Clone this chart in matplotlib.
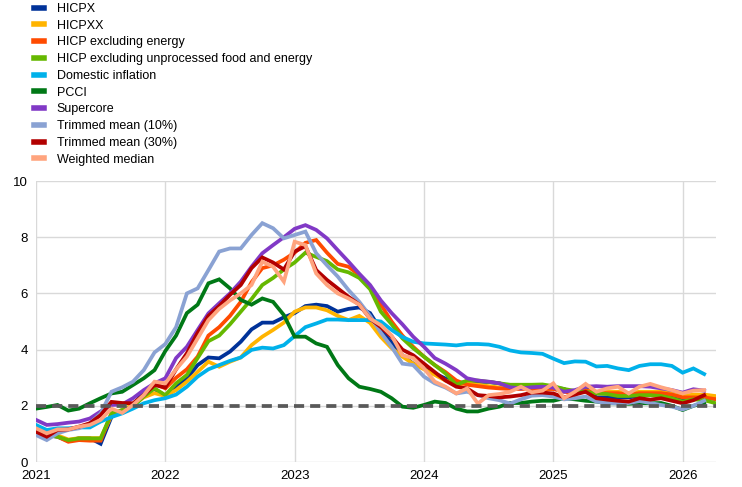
import numpy as np
import matplotlib; matplotlib.use("Agg"); import matplotlib.pyplot as plt

plt.rcParams["font.family"] = ["Liberation Sans", "DejaVu Sans"]

# monthly y-o-y rates, Jan 2021 onwards
YEARS = ["2021", "2022", "2023", "2024", "2025", "2026"]
hicpx = [1.1, 0.95, 0.9, 0.75, 0.85, 0.85, 0.65, 1.6, 1.85, 2.0, 2.5, 2.6,
         2.35, 2.7, 2.98, 3.45, 3.72, 3.69, 3.93, 4.28, 4.72, 4.96, 4.96, 5.15,
         5.3, 5.55, 5.6, 5.55, 5.35, 5.45, 5.5, 5.3, 4.7, 4.25, 3.8, 3.5,
         3.33, 3.15, 2.97, 2.8, 2.85, 2.85, 2.85, 2.8, 2.7, 2.7, 2.7, 2.7,
         2.65, 2.6, 2.4, 2.65, 2.3, 2.3, 2.3, 2.3, 2.35, 2.4, 2.4, 2.3,
         2.2, 2.25, 2.3, 2.25]
hicpxx = [1.1, 0.95, 0.95, 0.8, 0.85, 0.85, 0.85, 1.65, 1.85, 2.05, 2.3, 2.45,
          2.35, 2.56, 2.86, 3.21, 3.57, 3.39, 3.57, 3.72, 4.16, 4.46, 4.7, 4.96,
          5.35, 5.5, 5.5, 5.4, 5.2, 5.05, 5.2, 4.95, 4.45, 4.05, 3.75, 3.5,
          3.3, 3.1, 2.9, 2.75, 2.8, 2.75, 2.7, 2.65, 2.65, 2.65, 2.6, 2.6,
          2.6, 2.55, 2.5, 2.55, 2.5, 2.5, 2.5, 2.45, 2.5, 2.5, 2.5, 2.45,
          2.35, 2.4, 2.4, 2.35]
ex_energy = [1.2, 1.02, 0.9, 0.72, 0.78, 0.76, 0.76, 1.73, 1.8, 1.97, 2.38, 2.8,
             2.62, 3.0, 3.3, 3.75, 4.5, 4.8, 5.2, 5.7, 6.4, 6.9, 7.0, 7.2,
             7.45, 7.8, 7.9, 7.45, 7.05, 6.95, 6.65, 6.25, 5.6, 5.0, 4.5, 4.1,
             3.75, 3.45, 3.2, 2.9, 2.75, 2.7, 2.65, 2.62, 2.6, 2.6, 2.6, 2.6,
             2.6, 2.5, 2.45, 2.55, 2.45, 2.45, 2.45, 2.4, 2.45, 2.45, 2.45, 2.4,
             2.3, 2.3, 2.3, 2.24]
ex_unproc = [1.2, 0.96, 0.9, 0.78, 0.84, 0.84, 0.84, 1.73, 1.85, 1.97, 2.33, 2.62,
             2.38, 2.8, 3.1, 3.7, 4.3, 4.5, 4.9, 5.35, 5.8, 6.3, 6.55, 6.85,
             7.1, 7.45, 7.3, 7.15, 6.85, 6.75, 6.55, 6.15, 5.35, 4.9, 4.4, 4.05,
             3.75, 3.45, 3.15, 2.75, 2.9, 2.9, 2.85, 2.8, 2.75, 2.75, 2.75, 2.76,
             2.7, 2.6, 2.53, 2.5, 2.44, 2.42, 2.35, 2.35, 2.38, 2.38, 2.35, 2.27,
             2.15, 2.23, 2.2, 2.1]
domestic = [1.32, 1.14, 1.2, 1.2, 1.23, 1.23, 1.44, 1.6, 1.73, 1.9, 2.09, 2.2,
            2.27, 2.4, 2.68, 3.04, 3.3, 3.45, 3.6, 3.72, 3.99, 4.07, 4.04, 4.16,
            4.48, 4.8, 4.93, 5.07, 5.07, 5.05, 5.05, 5.05, 5.0, 4.7, 4.45, 4.28,
            4.22, 4.2, 4.18, 4.15, 4.2, 4.2, 4.18, 4.1, 3.97, 3.9, 3.88, 3.85,
            3.68, 3.52, 3.58, 3.57, 3.4, 3.42, 3.33, 3.27, 3.42, 3.48, 3.48, 3.42,
            3.18, 3.33, 3.13]
pcci = [1.9, 1.96, 2.03, 1.83, 1.9, 2.09, 2.27, 2.44, 2.5, 2.74, 2.98, 3.27,
        3.95, 4.5, 5.3, 5.6, 6.36, 6.5, 6.18, 5.77, 5.6, 5.82, 5.7, 5.23,
        4.46, 4.46, 4.22, 4.1, 3.45, 2.98, 2.68, 2.6, 2.5, 2.27, 1.97, 1.93,
        2.03, 2.15, 2.1, 1.9, 1.8, 1.8, 1.9, 1.97, 2.1, 2.1, 2.15, 2.18,
        2.18, 2.27, 2.23, 2.18, 2.15, 2.09, 2.09, 2.07, 2.09, 2.09, 2.1, 2.0,
        1.85, 2.0, 2.1]
supercore = [1.5, 1.32, 1.35, 1.4, 1.44, 1.55, 1.8, 2.03, 2.05, 2.27, 2.56, 2.8,
             2.98, 3.7, 4.1, 4.7, 5.29, 5.65, 6.0, 6.42, 6.95, 7.43, 7.72, 8.0,
             8.3, 8.43, 8.26, 7.96, 7.54, 7.13, 6.7, 6.3, 5.75, 5.3, 4.9, 4.46,
             4.1, 3.7, 3.5, 3.27, 2.98, 2.9, 2.86, 2.8, 2.66, 2.62, 2.66, 2.68,
             2.65, 2.5, 2.56, 2.68, 2.7, 2.68, 2.7, 2.7, 2.7, 2.68, 2.62, 2.56,
             2.47, 2.59, 2.54]
trim10 = [0.96, 0.78, 1.02, 1.14, 1.2, 1.38, 1.73, 2.5, 2.66, 2.86, 3.27, 3.9,
          4.2, 4.8, 6.0, 6.18, 6.83, 7.49, 7.6, 7.6, 8.08, 8.5, 8.32, 7.96,
          8.08, 8.2, 7.43, 7.0, 6.6, 6.12, 5.7, 5.2, 4.6, 4.1, 3.5, 3.45,
          3.04, 2.8, 2.65, 2.44, 2.5, 2.38, 2.27, 2.2, 2.08, 2.23, 2.36, 2.38,
          2.33, 2.23, 2.27, 2.33, 2.15, 2.1, 2.08, 2.1, 2.17, 2.1, 2.03, 1.97,
          1.87, 2.0, 2.18]
trim30 = [1.08, 0.9, 1.14, 1.16, 1.26, 1.38, 1.67, 2.14, 2.1, 2.09, 2.38, 2.74,
          2.65, 3.3, 3.87, 4.6, 5.2, 5.55, 5.95, 6.3, 6.9, 7.28, 7.1, 6.85,
          7.49, 7.68, 6.83, 6.48, 6.18, 5.88, 5.6, 5.1, 4.8, 4.46, 4.0, 3.8,
          3.5, 3.2, 2.9, 2.68, 2.62, 2.38, 2.35, 2.3, 2.33, 2.38, 2.47, 2.47,
          2.44, 2.3, 2.4, 2.5, 2.27, 2.22, 2.18, 2.15, 2.27, 2.22, 2.27, 2.18,
          2.09, 2.2, 2.38]
wmedian = [1.2, 1.02, 1.16, 1.16, 1.26, 1.32, 1.5, 1.9, 1.75, 2.03, 2.38, 2.86,
           2.8, 3.3, 3.75, 4.4, 5.05, 5.45, 5.75, 6.0, 6.3, 7.13, 6.95, 6.42,
           7.84, 7.72, 6.71, 6.3, 6.0, 5.82, 5.6, 5.1, 4.87, 4.5, 3.8, 3.7,
           3.33, 2.86, 2.68, 2.44, 2.62, 2.08, 2.38, 2.42, 2.5, 2.68, 2.48, 2.54,
           2.8, 2.27, 2.5, 2.78, 2.5, 2.62, 2.68, 2.44, 2.68, 2.78, 2.66, 2.56,
           2.44, 2.54, 2.56]
TARGET = 2.0

SERIES = [("HICPX", hicpx, "#003299"),
          ("HICPXX", hicpxx, "#FFB400"),
          ("HICP excluding energy", ex_energy, "#FF4B00"),
          ("HICP excluding unprocessed food and energy", ex_unproc, "#65B800"),
          ("Domestic inflation", domestic, "#00B1EA"),
          ("PCCI", pcci, "#007816"),
          ("Supercore", supercore, "#8139C6"),
          ("Trimmed mean (10%)", trim10, "#8AA2D3"),
          ("Trimmed mean (30%)", trim30, "#B20000"),
          ("Weighted median", wmedian, "#FFA47E")]

fig = plt.figure(figsize=(7.42, 4.87), dpi=100)
ax = fig.add_axes([0.0485, 0.0513, 0.9165, 0.577])
handles = []
for name, vals, col in SERIES:
    h, = ax.plot(np.arange(len(vals)), vals, color=col, lw=2.7, label=name, solid_joinstyle="miter")
    handles.append(h)
ax.axhline(TARGET, color="#595959", lw=2.7, ls=(0, (2.7, 1.6)), zorder=5)

ax.set_xlim(0, 63.1); ax.set_ylim(0, 10)
ax.set_xticks(np.arange(len(YEARS)) * 12); ax.set_xticklabels(YEARS)
ax.set_yticks(range(0, 11, 2))
ax.grid(True, color="#d9d9d9", lw=1)
ax.set_axisbelow(True)
ax.tick_params(length=0, labelsize=9.5, colors="#000000", pad=6)
for s in ax.spines.values(): s.set_visible(False)

leg = fig.legend(handles=handles, loc="upper left", bbox_to_anchor=(0.046, 0.994), frameon=False,
                 fontsize=9, handlelength=0.8, handletextpad=1.0, labelspacing=0.38, borderaxespad=0,
                 borderpad=0)
for lh in leg.legend_handles: lh.set_linewidth(4)

fig.savefig("out.png", dpi=100)
